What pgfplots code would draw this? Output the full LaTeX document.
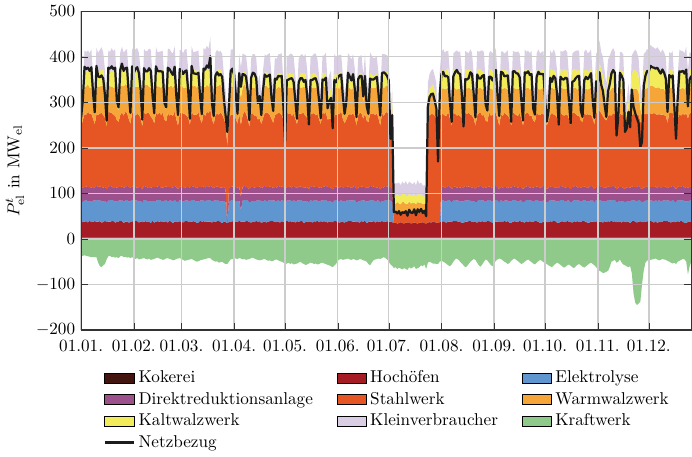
\documentclass[border=0pt]{standalone}
\usepackage{fontspec}
\usepackage{pgfplots}
\usepackage{pgfplotstable}
\pgfplotsset{compat=1.18}

\definecolor{cKokerei}{RGB}{68,20,14}
\definecolor{cHochofen}{RGB}{165,28,36}
\definecolor{cElektrolyse}{RGB}{96,150,207}
\definecolor{cDRI}{RGB}{156,80,140}
\definecolor{cStahlwerk}{RGB}{230,86,37}
\definecolor{cWarmwalz}{RGB}{246,166,56}
\definecolor{cKaltwalz}{RGB}{242,236,90}
\definecolor{cKlein}{RGB}{217,206,228}
\definecolor{cKraftwerk}{RGB}{143,202,138}
\definecolor{cNetz}{RGB}{28,28,28}

% Daily mean electric load per consumer (MW_el), one row per day from 01.01.
% kraft: own generation (negative), netz: resulting grid purchase
\pgfplotstableread{
kok hoch elek dri stahl warm kalt klein kraft netz
3 34 43 29 138 18 10 30 -38 267
3 34 45 31 148 30 18 34 -37 306
3 35 46 30 160 60 35 45 -36 378
3 36 47 29 158 62 33 42 -37 373
3 33 46 32 165 61 34 40 -38 376
3 37 44 30 161 57 32 44 -39 369
3 34 45 31 162 58 36 48 -40 377
3 35 46 30 150 38 22 36 -39 321
3 36 45 28 140 22 12 32 -40 278
3 35 48 31 157 63 37 46 -40 380
3 35 46 30 158 62 33 42 -52 357
3 36 47 29 160 60 35 45 -60 355
3 33 46 32 163 59 35 50 -62 359
3 34 45 31 159 64 36 38 -58 352
3 37 44 30 152 42 25 38 -55 316
3 34 43 29 138 18 10 30 -45 260
3 35 46 30 165 61 34 40 -38 376
3 35 48 31 161 57 32 44 -37 374
3 36 47 29 162 58 36 48 -40 379
3 36 45 28 160 60 35 45 -39 373
3 33 46 32 157 63 37 46 -41 376
3 34 45 31 148 30 18 34 -40 303
3 35 46 30 143 26 14 34 -42 289
3 37 44 30 158 62 33 42 -38 371
3 36 47 29 163 59 35 50 -37 385
3 32 47 30 159 64 36 38 -40 369
3 35 46 30 165 61 34 40 -39 375
3 35 48 31 160 60 35 45 -41 376
3 33 46 32 150 38 22 36 -40 320
3 34 45 31 140 22 12 32 -42 277
3 36 47 29 162 58 36 48 -40 379
3 35 46 30 161 57 32 44 -43 365
3 37 44 30 157 63 37 46 -44 373
3 36 45 28 163 59 35 50 -42 377
3 33 46 32 158 62 33 42 -45 364
3 35 46 30 152 42 25 38 -44 327
3 34 43 29 138 18 10 30 -43 262
3 35 48 31 160 60 35 45 -42 375
3 36 47 29 159 64 36 38 -44 368
3 34 45 31 165 61 34 40 -45 368
3 35 46 30 162 58 36 48 -43 375
3 32 47 30 157 63 37 46 -46 369
3 37 44 30 150 38 22 36 -45 315
3 33 46 32 140 22 12 32 -44 276
3 35 46 30 163 59 35 50 -42 379
3 36 47 29 158 62 33 42 -41 369
3 35 48 31 161 57 32 44 -43 368
3 36 45 28 160 60 35 45 -44 368
3 34 45 31 165 61 34 40 -46 367
3 35 46 30 148 30 18 34 -45 299
3 36 47 29 143 26 14 34 -43 289
3 33 46 32 162 58 36 48 -42 376
3 37 44 30 157 63 37 46 -44 373
3 35 46 30 159 64 36 38 -45 366
3 32 47 30 158 62 33 42 -47 360
3 35 48 31 163 59 35 50 -46 378
3 34 45 31 150 38 22 36 -44 315
3 34 43 29 140 22 12 32 -43 272
3 36 47 29 160 60 35 45 -42 373
3 35 46 30 165 61 34 40 -44 370
3 33 46 32 161 57 32 44 -46 362
3 36 45 28 162 58 36 48 -48 368
3 37 44 30 157 63 37 46 -47 370
3 35 46 30 152 42 25 38 -46 325
3 34 45 31 138 18 10 30 -45 264
3 35 48 31 163 59 35 50 -44 380
3 36 47 29 158 62 33 42 -46 364
3 35 46 30 159 64 36 38 -48 363
3 32 47 30 160 60 35 45 -50 362
3 33 46 32 165 61 34 40 -49 365
3 37 44 30 150 38 22 36 -47 313
3 35 46 30 140 22 12 32 -46 274
3 36 47 29 162 58 36 48 -45 374
3 34 45 31 157 63 37 46 -44 372
3 35 48 31 163 59 35 50 -43 381
3 35 46 30 162 58 36 48 -42 376
3 35 48 31 168 66 40 52 -42 401
3 33 46 32 148 30 18 34 -46 298
3 36 45 28 140 22 12 32 -48 270
3 35 46 30 158 62 33 42 -50 359
3 36 47 29 160 60 35 45 -49 366
3 37 44 30 159 64 36 38 -52 359
3 34 45 31 165 61 34 40 -51 362
3 32 47 30 161 57 32 44 -50 356
3 35 46 30 150 38 22 36 -53 307
3 34 43 29 143 26 14 34 -55 271
3 32 0 0 170 45 15 25 -55 235
3 34 45 31 148 30 18 34 -50 293
3 35 46 30 160 60 35 45 -45 369
3 36 47 29 157 63 37 46 -44 374
3 33 46 32 160 58 30 40 -42 360
3 35 46 30 150 38 22 36 -43 317
3 34 45 31 140 22 12 32 -44 275
3 37 44 30 162 56 32 42 -42 364
3 35 25 30 158 60 28 38 -43 334
3 35 46 30 157 61 31 44 -45 362
3 35 48 31 164 59 29 36 -44 361
3 36 47 29 160 58 30 40 -46 357
3 36 45 28 152 42 25 38 -45 324
3 34 43 29 138 18 10 30 -44 261
3 33 46 32 161 55 27 39 -42 354
3 35 46 30 162 56 32 42 -41 365
3 34 45 31 157 61 31 44 -43 363
3 37 44 30 158 60 28 38 -45 353
3 35 46 30 148 30 18 34 -46 298
3 36 47 29 150 38 22 36 -47 314
3 32 47 30 140 22 12 32 -46 272
3 34 45 31 152 42 25 38 -45 325
3 35 48 31 160 58 30 40 -44 361
3 33 46 32 164 59 29 36 -46 356
3 35 46 30 162 56 32 42 -48 358
3 36 47 29 157 61 31 44 -47 361
3 37 44 30 150 38 22 36 -49 311
3 36 45 28 143 26 14 34 -48 281
3 35 46 30 158 60 28 38 -46 352
3 34 45 31 161 55 27 39 -45 350
3 35 48 31 160 58 30 40 -47 358
3 33 46 32 162 56 32 42 -49 357
3 36 47 29 157 61 31 44 -50 358
3 35 46 30 148 30 18 34 -52 292
3 34 43 29 128 8 4 20 -56 213
3 37 44 30 164 59 29 36 -54 348
3 35 46 30 160 58 30 40 -52 350
3 36 47 29 162 56 32 42 -55 352
3 34 45 31 157 61 31 44 -53 353
3 35 48 31 158 60 28 38 -56 345
3 33 46 32 150 38 22 36 -55 305
3 36 45 28 140 22 12 32 -54 264
3 35 46 30 161 55 27 39 -52 344
3 36 47 29 160 58 30 40 -50 353
3 37 44 30 162 56 32 42 -53 353
3 32 47 30 164 59 29 36 -55 345
3 34 45 31 157 61 31 44 -57 349
3 35 46 30 152 42 25 38 -56 315
3 34 43 29 138 18 10 30 -54 251
3 35 48 31 158 60 28 38 -52 349
3 33 46 32 160 58 30 40 -53 349
3 36 47 29 162 56 32 42 -55 352
3 35 46 30 157 61 31 44 -54 353
3 37 44 30 161 55 27 39 -56 340
3 34 45 31 150 38 22 36 -55 304
3 36 45 28 140 22 12 32 -53 265
3 35 46 30 164 59 29 36 -52 350
3 36 47 29 160 58 30 40 -54 349
3 35 48 31 162 56 32 42 -55 354
3 33 46 32 148 30 18 34 -57 287
3 35 46 30 150 38 22 36 -58 302
3 34 45 31 152 42 25 38 -60 310
3 34 43 29 138 18 10 30 -62 243
3 37 44 30 157 61 31 44 -58 349
3 36 47 29 158 60 28 38 -55 344
3 35 46 30 160 58 30 40 -48 354
3 32 47 30 162 56 32 42 -45 359
3 35 48 31 164 59 29 36 -44 361
3 34 45 31 150 38 22 36 -46 313
3 33 46 32 140 22 12 32 -45 275
3 35 46 30 148 30 18 34 -44 300
3 36 47 29 157 61 31 44 -43 365
3 37 44 30 160 58 30 40 -45 357
3 36 45 28 161 55 27 39 -46 348
3 35 46 30 162 56 32 42 -44 362
3 35 48 31 152 42 25 38 -45 329
3 34 43 29 140 22 12 32 -47 268
3 34 45 31 158 60 28 38 -46 351
3 33 46 32 164 59 29 36 -44 358
3 36 47 29 160 58 30 40 -45 358
3 35 46 30 150 38 22 36 -47 313
3 37 44 30 162 56 32 42 -48 358
3 32 47 30 148 30 18 34 -50 292
3 34 45 31 143 26 14 34 -55 275
3 35 48 31 157 61 31 44 -58 352
3 35 46 30 160 58 30 40 -52 350
3 36 47 29 161 55 27 39 -47 350
3 33 46 32 158 60 28 38 -45 353
3 36 45 28 164 59 29 36 -44 356
3 35 46 30 150 38 22 36 -43 317
3 34 43 29 140 22 12 32 -44 271
3 37 44 30 162 56 32 42 -42 364
3 34 45 31 157 61 31 44 -40 366
3 35 48 31 160 58 30 40 -42 363
3 36 47 29 164 59 29 36 -45 358
3 35 46 30 158 60 28 38 -50 348
3 35 46 30 135 8 4 15 -56 220
3 34 45 31 150 30 18 20 -59 272
3 32 0 0 23 22 18 25 -64 59
3 33 0 0 21 20 17 28 -62 60
3 31 0 0 24 23 19 22 -66 56
3 32 0 0 22 21 16 30 -63 61
3 34 0 0 20 19 18 24 -65 53
3 32 0 0 25 22 17 27 -67 59
3 31 0 0 23 24 19 21 -64 57
3 33 0 0 21 20 18 32 -66 61
3 32 0 0 24 18 16 26 -68 51
3 34 0 0 22 23 20 24 -62 64
3 31 0 0 23 21 17 28 -65 58
3 32 0 0 25 19 18 23 -63 57
3 33 0 0 21 22 19 27 -60 65
3 32 0 0 22 20 16 25 -66 52
3 31 0 0 24 23 18 30 -64 65
3 33 0 0 23 21 17 24 -62 59
3 32 0 0 22 22 19 26 -58 66
3 34 0 0 20 20 18 22 -60 57
3 32 0 0 23 19 16 25 -56 62
3 31 0 0 21 21 17 23 -66 50
3 33 0 0 232 30 15 30 -52 291
3 34 0 0 235 38 20 32 -50 312
3 33 0 0 238 40 22 34 -52 318
3 35 0 0 236 42 24 33 -54 319
3 34 0 0 234 36 20 31 -54 304
3 33 0 0 228 30 18 30 -55 287
3 32 0 0 140 15 10 25 -55 170
3 34 0 0 235 40 25 32 -50 319
3 35 46 30 160 56 40 40 -48 362
3 36 47 29 159 57 41 45 -50 367
3 34 45 31 158 58 38 42 -52 357
3 33 46 32 157 59 43 40 -55 358
3 35 48 31 162 54 42 38 -58 355
3 35 46 30 150 36 26 34 -60 300
3 34 43 29 140 20 14 30 -56 257
3 37 44 30 163 55 39 36 -50 357
3 36 47 29 160 56 40 40 -45 366
3 36 45 28 159 57 41 45 -43 371
3 35 46 30 158 58 38 42 -46 364
3 34 45 31 157 59 43 40 -50 362
3 33 46 32 152 40 28 36 -54 316
3 32 47 30 137 16 12 28 -58 247
3 35 48 31 162 54 42 38 -62 351
3 35 46 30 160 56 40 40 -60 350
3 36 47 29 163 55 39 36 -55 353
3 37 44 30 159 57 41 45 -50 366
3 34 45 31 158 58 38 42 -47 362
3 35 46 30 150 36 26 34 -44 316
3 34 43 29 140 20 14 30 -46 267
3 33 46 32 157 59 43 40 -52 361
3 36 47 29 162 54 42 38 -58 353
3 35 48 31 160 56 40 40 -61 352
3 36 45 28 159 57 41 45 -56 358
3 35 46 30 158 58 38 42 -50 360
3 34 45 31 147 28 20 32 -45 295
3 37 44 30 143 24 16 32 -47 282
3 36 47 29 163 55 39 36 -52 356
3 35 46 30 157 59 43 40 -57 356
3 32 47 30 160 56 40 40 -60 348
3 33 46 32 162 54 42 38 -54 356
3 35 48 31 159 57 41 45 -48 371
3 35 46 30 150 36 26 34 -45 315
3 34 43 29 140 20 14 30 -43 270
3 36 47 29 158 58 38 42 -44 367
3 34 45 31 157 59 43 40 -47 365
3 37 44 30 163 55 39 36 -50 357
3 35 46 30 160 56 40 40 -52 358
3 36 45 28 159 57 41 45 -55 359
3 33 46 32 152 40 28 36 -53 317
3 32 47 30 137 16 12 28 -48 257
3 35 48 31 162 54 42 38 -45 368
3 36 47 29 160 56 40 40 -43 368
3 35 46 30 158 58 38 42 -46 364
3 34 45 31 157 59 43 40 -49 363
3 37 44 30 163 55 39 36 -52 355
3 35 46 30 150 36 26 34 -55 305
3 34 43 29 140 20 14 30 -53 260
3 33 46 32 159 57 41 45 -50 366
3 36 47 29 162 54 42 38 -47 364
3 35 48 31 160 56 40 40 -45 368
3 36 45 28 158 58 38 42 -48 360
3 35 46 30 157 59 43 40 -51 362
3 34 45 31 147 28 20 32 -54 286
3 37 44 30 143 24 16 32 -56 273
3 36 47 29 163 55 39 36 -52 356
3 35 46 30 159 57 41 45 -49 367
3 32 47 30 160 56 40 40 -46 362
3 33 46 32 162 54 42 38 -48 362
3 35 48 31 158 58 38 42 -51 362
3 35 46 30 150 36 26 34 -53 307
3 34 43 29 140 20 14 30 -55 258
3 34 45 31 147 28 20 32 -58 282
3 36 47 29 157 59 43 40 -60 354
3 35 46 30 163 55 39 36 -62 345
3 37 44 30 159 57 41 45 -58 358
3 36 45 28 160 56 40 40 -55 353
3 33 46 32 152 40 28 36 -52 318
3 32 47 30 137 16 12 28 -54 251
3 35 48 31 162 54 42 38 -57 356
3 36 47 29 158 58 38 42 -60 351
3 35 46 30 157 59 43 40 -63 350
3 34 45 31 159 57 41 45 -61 354
3 37 44 30 160 56 40 40 -58 352
3 35 46 30 150 36 26 34 -56 304
3 34 43 29 140 20 14 30 -59 254
3 33 46 32 163 55 39 36 -62 345
3 36 47 29 162 54 42 38 -64 347
3 35 48 31 158 58 38 42 -60 353
3 36 45 28 159 57 41 45 -57 357
3 35 46 30 157 59 43 40 -55 358
3 34 45 31 147 28 20 32 -58 282
3 37 44 30 143 24 16 32 -61 268
3 36 47 29 160 56 40 40 -63 348
3 35 46 30 159 57 41 45 -60 356
3 32 47 30 162 54 42 38 -57 351
3 33 46 32 158 58 38 42 -54 356
3 35 48 31 157 59 43 40 -52 364
3 35 46 30 150 36 26 34 -55 305
3 34 43 29 143 24 16 32 -58 266
3 36 47 29 163 55 39 36 -62 346
3 34 45 31 160 56 40 40 -66 343
3 35 48 31 165 62 44 48 -70 366
3 35 46 30 162 54 42 38 -72 338
3 33 46 32 156 52 38 40 -75 325
3 36 45 28 152 40 28 36 -74 294
3 34 45 31 147 28 20 32 -72 268
3 36 47 29 155 50 36 38 -70 324
3 35 46 30 158 52 38 40 -62 340
3 37 44 30 157 59 43 40 -50 363
3 35 48 31 159 57 41 45 -48 371
3 36 47 29 160 56 40 40 -46 365
3 34 43 29 132 12 6 20 -52 227
3 34 45 31 140 20 14 30 -50 267
3 35 46 30 162 54 42 38 -45 365
3 33 46 32 158 58 38 42 -52 358
3 36 45 28 163 55 39 36 -56 349
3 34 43 29 140 14 8 22 -58 235
3 34 45 31 142 16 8 24 -60 243
3 35 46 30 147 28 20 32 -62 279
3 32 47 30 137 16 12 28 -60 245
3 36 47 29 158 52 38 40 -75 328
3 37 44 30 160 56 40 40 -120 290
3 35 46 30 159 57 41 45 -140 276
3 33 46 32 158 58 38 42 -145 265
3 35 48 31 155 50 36 38 -142 254
3 36 45 28 147 28 20 32 -138 201
3 34 43 29 140 20 14 30 -100 213
3 34 45 31 163 55 39 36 -70 336
3 35 46 30 160 56 40 40 -52 358
3 36 47 29 159 57 41 45 -48 369
3 35 48 31 158 58 38 42 -45 368
3 37 44 30 162 60 44 46 -46 380
3 35 46 30 160 62 42 44 -45 377
3 33 46 32 163 58 43 42 -44 376
3 36 47 29 159 57 41 45 -43 374
3 32 47 30 161 60 42 46 -45 376
3 35 48 31 157 59 43 40 -47 369
3 34 45 31 160 56 40 40 -46 363
3 35 46 30 159 57 41 45 -44 372
3 37 44 30 158 58 38 42 -45 365
3 36 47 29 155 50 38 40 -46 352
3 36 45 28 143 24 16 32 -48 279
3 35 46 30 162 54 42 38 -50 360
3 33 46 32 163 55 39 36 -52 355
3 35 48 31 160 56 40 40 -54 359
3 34 45 31 148 30 22 32 -52 293
3 34 43 29 130 10 6 20 -55 220
3 36 47 29 150 36 26 34 -50 311
3 35 46 30 159 57 41 45 -48 368
3 37 44 30 157 59 43 40 -46 367
3 35 48 31 158 58 38 42 -44 369
3 32 47 30 160 56 40 40 -45 363
3 33 46 32 162 58 42 46 -50 372
3 34 45 31 152 40 28 36 -78 291
3 35 46 30 162 54 42 38 -60 350
3 36 47 29 163 55 39 36 -50 358
}\lastprofile

\begin{document}
\begin{tikzpicture}
\begin{axis}[
  scale only axis,
  width=356pt, height=186pt,
  xmin=0, xmax=359,
  ymin=-200, ymax=500,
  xtick={0,31,59,90,120,151,181,212,243,273,304,334},
  xticklabels={01.01.,01.02.,01.03.,01.04.,01.05.,01.06.,01.07.,01.08.,01.09.,01.10.,01.11.,01.12.},
  ytick={-200,-100,...,500},
  grid=major,
  grid style={black!20, line width=0.8pt},
  axis on top,
  axis line style={black!80, line width=0.7pt},
  tick style={black!80},
  xticklabel style={yshift=-2.5pt},
  ylabel={$P_{\mathrm{el}}^{t}$ in MW$_{\mathrm{el}}$},
  legend columns=3,
  legend cell align=left,
  legend style={draw=none, fill=none, at={(0.028,-0.105)}, anchor=north west,
    /tikz/every even column/.append style={column sep=12pt}},
  layer/.style={stack plots=y, draw=none, fill=#1, area legend},
]
\addplot[layer=cKokerei]     table[x expr=\coordindex, y=kok]   {\lastprofile} \closedcycle;
\addlegendentry{Kokerei}
\addplot[layer=cHochofen]    table[x expr=\coordindex, y=hoch]  {\lastprofile} \closedcycle;
\addlegendentry{Hochöfen}
\addplot[layer=cElektrolyse] table[x expr=\coordindex, y=elek]  {\lastprofile} \closedcycle;
\addlegendentry{Elektrolyse}
\addplot[layer=cDRI]         table[x expr=\coordindex, y=dri]   {\lastprofile} \closedcycle;
\addlegendentry{Direktreduktionsanlage}
\addplot[layer=cStahlwerk]   table[x expr=\coordindex, y=stahl] {\lastprofile} \closedcycle;
\addlegendentry{Stahlwerk}
\addplot[layer=cWarmwalz]    table[x expr=\coordindex, y=warm]  {\lastprofile} \closedcycle;
\addlegendentry{Warmwalzwerk}
\addplot[layer=cKaltwalz]    table[x expr=\coordindex, y=kalt]  {\lastprofile} \closedcycle;
\addlegendentry{Kaltwalzwerk}
\addplot[layer=cKlein]       table[x expr=\coordindex, y=klein] {\lastprofile} \closedcycle;
\addlegendentry{Kleinverbraucher}
% own generation below zero, not part of the stack
\addplot[draw=none, fill=cKraftwerk, area legend] table[x expr=\coordindex, y=kraft] {\lastprofile} \closedcycle;
\addlegendentry{Kraftwerk}
\addplot[color=cNetz, line width=1.3pt, line join=round] table[x expr=\coordindex, y=netz] {\lastprofile};
\addlegendentry{Netzbezug}
\end{axis}
\end{tikzpicture}
\end{document}
